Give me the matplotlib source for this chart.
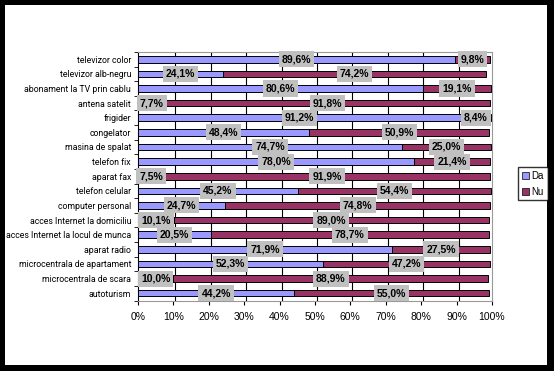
import matplotlib.pyplot as plt
import matplotlib.patches as mpatches
import numpy as np

plt.rcParams['font.family'] = ['Liberation Sans', 'DejaVu Sans']

categories = ["televizor color", "televizor alb-negru", "abonament la TV prin cablu",
              "antena satelit", "frigider", "congelator", "masina de spalat",
              "telefon fix", "aparat fax", "telefon celular", "computer personal",
              "acces Internet la domiciliu", "acces Internet la locul de munca",
              "aparat radio", "microcentrala de apartament", "microcentrala de scara",
              "autoturism"]
da = [89.6, 24.1, 80.6, 7.7, 91.2, 48.4, 74.7, 78.0, 7.5, 45.2, 24.7, 10.1, 20.5,
      71.9, 52.3, 10.0, 44.2]
nu = [9.8, 74.2, 19.1, 91.8, 8.4, 50.9, 25.0, 21.4, 91.9, 54.4, 74.8, 89.0, 78.7,
      27.5, 47.2, 88.9, 55.0]
xticks = [0, 10, 20, 30, 40, 50, 60, 70, 80, 90, 100]

da_col = '#9999FF'
nu_col = '#993366'

fig = plt.figure(figsize=(5.54, 3.71), dpi=100, facecolor='black')
# white chart area inside the black frame
fig.patches.append(mpatches.Rectangle((5 / 554, 6 / 371), 542 / 554, 360 / 371,
                                      transform=fig.transFigure, facecolor='white',
                                      edgecolor='none', zorder=-10))

ax = fig.add_axes([0.249, 0.19, 0.639, 0.67])
ax.set_facecolor('white')

y = np.arange(len(categories))
h = 0.45
b1 = ax.barh(y, da, height=h, color=da_col, edgecolor='black', linewidth=0.7, zorder=3)
b2 = ax.barh(y, nu, left=da, height=h, color=nu_col, edgecolor='black', linewidth=0.7, zorder=3)

for bars, vals in ((b1, da), (b2, nu)):
    labels = [f"{v:.1f}%".replace('.', ',') for v in vals]
    txts = ax.bar_label(bars, labels=labels, label_type='center', fontsize=7.5,
                        fontweight='bold', zorder=5)
    for t in txts:
        t.set_bbox(dict(facecolor='#C0C0C0', edgecolor='none', pad=2.2))

for x in xticks[1:-1]:
    ax.axvline(x + 0.6, color='black', linewidth=0.8, zorder=1)

ax.set_xlim(0, 100)
ax.set_ylim(len(categories) - 0.5, -0.5)
ax.set_xticks(xticks)
ax.set_xticklabels([f"{x}%" for x in xticks], fontsize=7.5)
ax.set_yticks(y)
ax.set_yticklabels(categories, fontsize=6.3, family=['Roboto', 'DejaVu Sans'])
ax.set_yticks(np.arange(-0.5, len(categories)), minor=True)
ax.tick_params(axis='y', which='major', length=0, pad=5)
ax.tick_params(axis='y', which='minor', length=3, color='black')
ax.tick_params(axis='x', length=3, pad=5)

for s in ('top', 'right'):
    ax.spines[s].set_color('#999999')
ax.spines['left'].set_color('black')
ax.spines['bottom'].set_color('#999999')

handles = [mpatches.Patch(facecolor=da_col, edgecolor='black', linewidth=0.5, label='Da'),
           mpatches.Patch(facecolor=nu_col, edgecolor='black', linewidth=0.5, label='Nu')]
fig.legend(handles=handles, loc='center left', bbox_to_anchor=(0.935, 0.505),
           fontsize=7, frameon=True, fancybox=False, edgecolor='black',
           handlelength=0.7, handleheight=0.7, handletextpad=0.3,
           borderpad=0.4, labelspacing=0.6, borderaxespad=0)

fig.savefig('out.png', dpi=100, facecolor='black')
